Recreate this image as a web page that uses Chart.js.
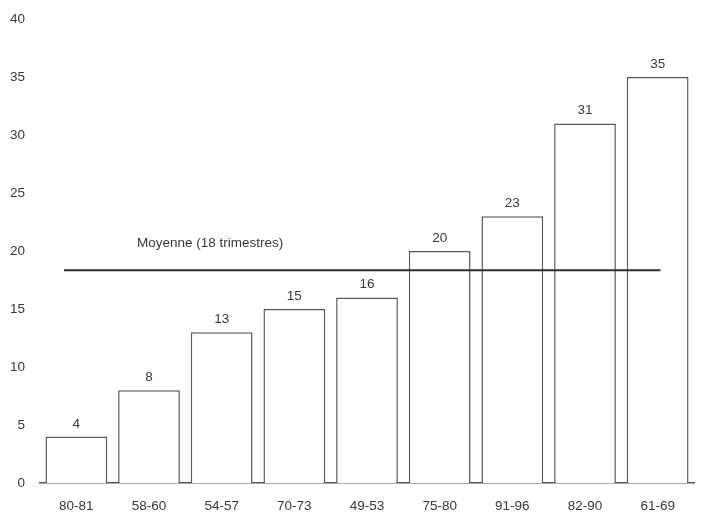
<!DOCTYPE html>
<html>
<head>
<meta charset="utf-8">
<script src="https://cdn.jsdelivr.net/npm/chart.js@4/dist/chart.umd.min.js"></script>
<style>
  html, body { margin: 0; padding: 0; background: #fff; }
  #wrap { width: 722px; height: 517px; }
</style>
</head>
<body>
<div id="wrap"><canvas id="c" width="722" height="517"></canvas></div>
<script>
// Durée des phases (en trimestres), par période
const periods = ['80-81', '58-60', '54-57', '70-73', '49-53', '75-80', '91-96', '82-90', '61-69'];
const durations = [4, 8, 13, 15, 16, 20, 23, 31, 35];
const yTicks = [0, 5, 10, 15, 20, 25, 30, 35, 40];
const meanLabel = 'Moyenne (18 trimestres)';

const mean = durations.reduce((a, b) => a + b, 0) / durations.length;
// horizontal span of the mean line, in category-index units
const meanSpan = [-0.17, 8.04];

const FONT = '"Liberation Sans", Arial, sans-serif';
const TEXT = '#383838';

const labelsPlugin = {
  id: 'valueLabels',
  afterDatasetsDraw(chart) {
    const ctx = chart.ctx;
    const meta = chart.getDatasetMeta(0);
    ctx.save();
    ctx.font = '13.5px ' + FONT;
    ctx.fillStyle = TEXT;
    ctx.textAlign = 'center';
    ctx.textBaseline = 'bottom';
    meta.data.forEach((bar, i) => {
      ctx.fillText(String(durations[i]), bar.x, bar.y - 6);
    });
    // caption of the mean line
    const y = chart.scales.y.getPixelForValue(mean);
    const x0 = chart.scales.xm.getPixelForValue(meanSpan[0]);
    ctx.textAlign = 'left';
    ctx.fillText(meanLabel, x0 + 73, y - 20);
    ctx.restore();
  }
};

new Chart(document.getElementById('c'), {
  type: 'bar',
  data: {
    labels: periods,
    datasets: [
      {
        type: 'bar',
        data: durations,
        backgroundColor: '#ffffff',
        borderColor: '#5a5a5a',
        borderWidth: 1.5,
        borderSkipped: 'bottom',
        barPercentage: 0.85,
        categoryPercentage: 1.0,
        grouped: false,
        xAxisID: 'x',
        order: 2
      },
      {
        type: 'line',
        data: meanSpan.map(v => ({ x: v, y: mean })),
        borderColor: '#2e2e2e',
        borderWidth: 2,
        pointRadius: 0,
        fill: false,
        xAxisID: 'xm',
        order: 1
      }
    ]
  },
  options: {
    responsive: false,
    animation: false,
    devicePixelRatio: 1,
    layout: { padding: { left: 0, right: 28, top: 19, bottom: 0 } },
    plugins: {
      legend: { display: false },
      tooltip: { enabled: false }
    },
    scales: {
      x: {
        type: 'category',
        offset: true,
        grid: { display: false, drawTicks: false },
        border: { display: true, color: '#555', width: 1.5 },
        ticks: { color: TEXT, font: { family: FONT, size: 13.5 }, padding: 15 },
        afterFit(s) { s.height = 34; }
      },
      xm: {
        type: 'linear',
        display: false,
        offset: false,
        min: -0.5,
        max: 8.5
      },
      y: {
        min: 0,
        max: 40,
        afterBuildTicks(s) { s.ticks = yTicks.map(v => ({ value: v })); },
        grid: { display: false, drawTicks: false },
        border: { display: false },
        ticks: { color: TEXT, font: { family: FONT, size: 13.5 }, padding: 15 },
        afterFit(s) { s.width = 40; s.paddingTop = 0; s.paddingBottom = 0; }
      }
    }
  },
  plugins: [labelsPlugin]
});
</script>
</body>
</html>
